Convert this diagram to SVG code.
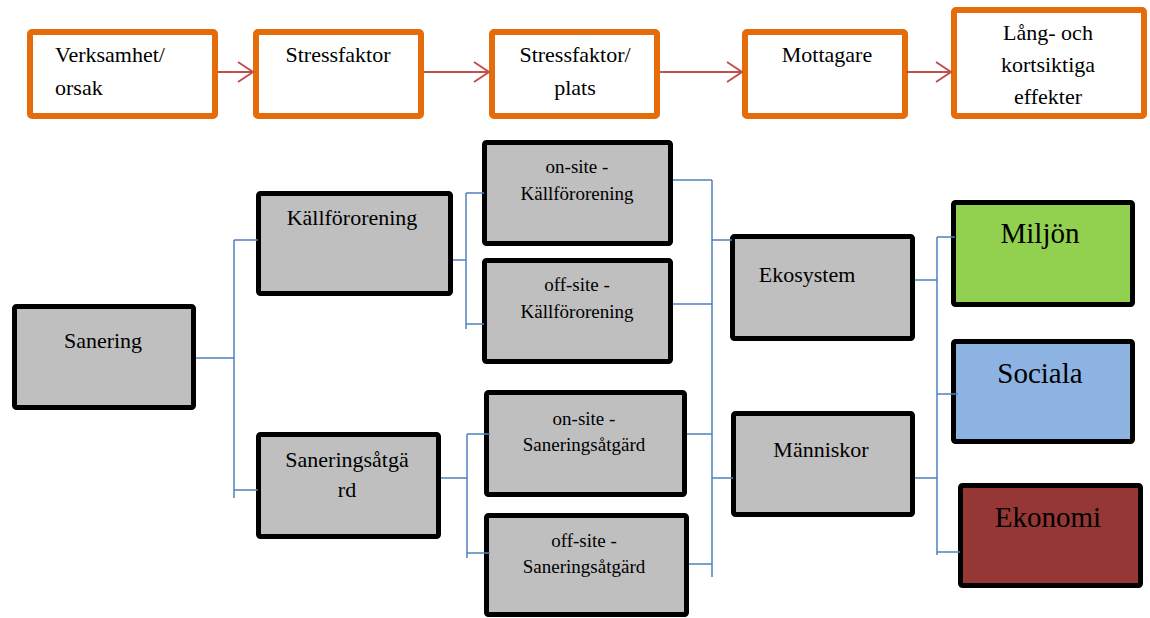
<svg xmlns="http://www.w3.org/2000/svg" width="1150" height="618" viewBox="0 0 1150 618" font-family="'Liberation Serif', 'Times New Roman', 'DejaVu Serif', serif">
<style>
.top{fill:#fff;stroke:#e46c0a;stroke-width:6}
.box{stroke:#000;stroke-width:5}
.g{fill:#bfbfbf}
text{font-family:'Liberation Serif','Times New Roman','DejaVu Serif',serif;fill:#000;text-anchor:middle}
.t22{font-size:22px}
.t19{font-size:19px}
.t29{font-size:29px}
.arr{fill:none;stroke:#c0504d;stroke-width:2}
.con{fill:none;stroke:#4f81bd;stroke-width:1.5}
</style>
<g id="verksamhet"><rect class="top" x="30" y="32" width="185" height="84" rx="2"/><text class="t22" x="55" y="62" text-anchor="start" style="text-anchor:start">Verksamhet/</text><text class="t22" x="55" y="95" style="text-anchor:start">orsak</text></g>
<g id="stressfaktor"><rect class="top" x="256" y="32" width="165" height="84" rx="2"/><text class="t22" x="338" y="62">Stressfaktor</text></g>
<g id="stressfaktor-plats"><rect class="top" x="492" y="32" width="165" height="84" rx="2"/><text class="t22" x="575" y="62">Stressfaktor/</text><text class="t22" x="575" y="95">plats</text></g>
<g id="mottagare"><rect class="top" x="745" y="32" width="160" height="84" rx="2"/><text class="t22" x="827" y="62">Mottagare</text></g>
<g id="effekter"><rect class="top" x="954" y="10" width="190" height="106" rx="2"/><text class="t22" x="1048" y="40">Lång- och</text><text class="t22" x="1048" y="72">kortsiktiga</text><text class="t22" x="1048" y="104">effekter</text></g>

<g id="sanering"><rect class="box g" x="14.5" y="306.5" width="179" height="101" rx="2"/><text class="t22" x="103" y="348">Sanering</text></g>
<g id="kallfororening"><rect class="box g" x="258.5" y="193.5" width="192" height="100" rx="2"/><text class="t22" x="352" y="225">Källförorening</text></g>
<g id="saneringsatgard"><rect class="box g" x="258.5" y="434.5" width="180" height="102" rx="2"/><text class="t22" x="347" y="467">Saneringsåtgä</text><text class="t22" x="347" y="497">rd</text></g>
<g id="onsite-kall"><rect class="box g" x="484.5" y="142.5" width="186" height="101" rx="2"/><text class="t19" x="577" y="173">on-site -</text><text class="t19" x="577" y="200">Källförorening</text></g>
<g id="offsite-kall"><rect class="box g" x="484.5" y="260.5" width="186" height="101" rx="2"/><text class="t19" x="577" y="291">off-site -</text><text class="t19" x="577" y="318">Källförorening</text></g>
<g id="onsite-san"><rect class="box g" x="486.5" y="392.5" width="198" height="102" rx="2"/><text class="t19" x="584" y="425">on-site -</text><text class="t19" x="584" y="451">Saneringsåtgärd</text></g>
<g id="offsite-san"><rect class="box g" x="486.5" y="515.5" width="200" height="99" rx="2"/><text class="t19" x="584" y="547">off-site -</text><text class="t19" x="584" y="573">Saneringsåtgärd</text></g>
<g id="ekosystem"><rect class="box g" x="732.5" y="236.5" width="180" height="102" rx="2"/><text class="t22" x="807" y="282">Ekosystem</text></g>
<g id="manniskor"><rect class="box g" x="733.5" y="413.5" width="179" height="101" rx="2"/><text class="t22" x="821" y="457">Människor</text></g>
<g id="miljon"><rect class="box" fill="#92d050" x="953.5" y="202.5" width="179" height="102" rx="2"/><text class="t29" x="1040" y="243">Miljön</text></g>
<g id="sociala"><rect class="box" fill="#8db3e2" x="953.5" y="341.5" width="179" height="100" rx="2"/><text class="t29" x="1040" y="383">Sociala</text></g>
<g id="ekonomi"><rect class="box" fill="#953735" x="960.5" y="485.5" width="180" height="100" rx="2"/><text class="t29" x="1048" y="527">Ekonomi</text></g>

<g id="connectors">
<path class="arr" d="M218 72H253M238 62L253 72L238 82"/>
<path class="arr" d="M424 72H489M474 62L489 72L474 82"/>
<path class="arr" d="M660 72H742M727 62L742 72L727 82"/>
<path class="arr" d="M906 72H951M936 62L951 72L936 82"/>
<path class="con" d="M196 358H234M234 240V498M234 240H258M234 490H258"/>
<path class="con" d="M453 260H466M466 193V329M466 193H484M466 324H484"/>
<path class="con" d="M441 478H467M467 434V558M467 434H490M467 553H490"/>
<path class="con" d="M673 180H712M673 304H712M687 434H712M689 564H712M712 180V577M712 240H732M712 478H733"/>
<path class="con" d="M915 280H937M915 478H937M937 237V555M937 237H955M937 394H958M937 552H960"/>
</g>
</svg>
